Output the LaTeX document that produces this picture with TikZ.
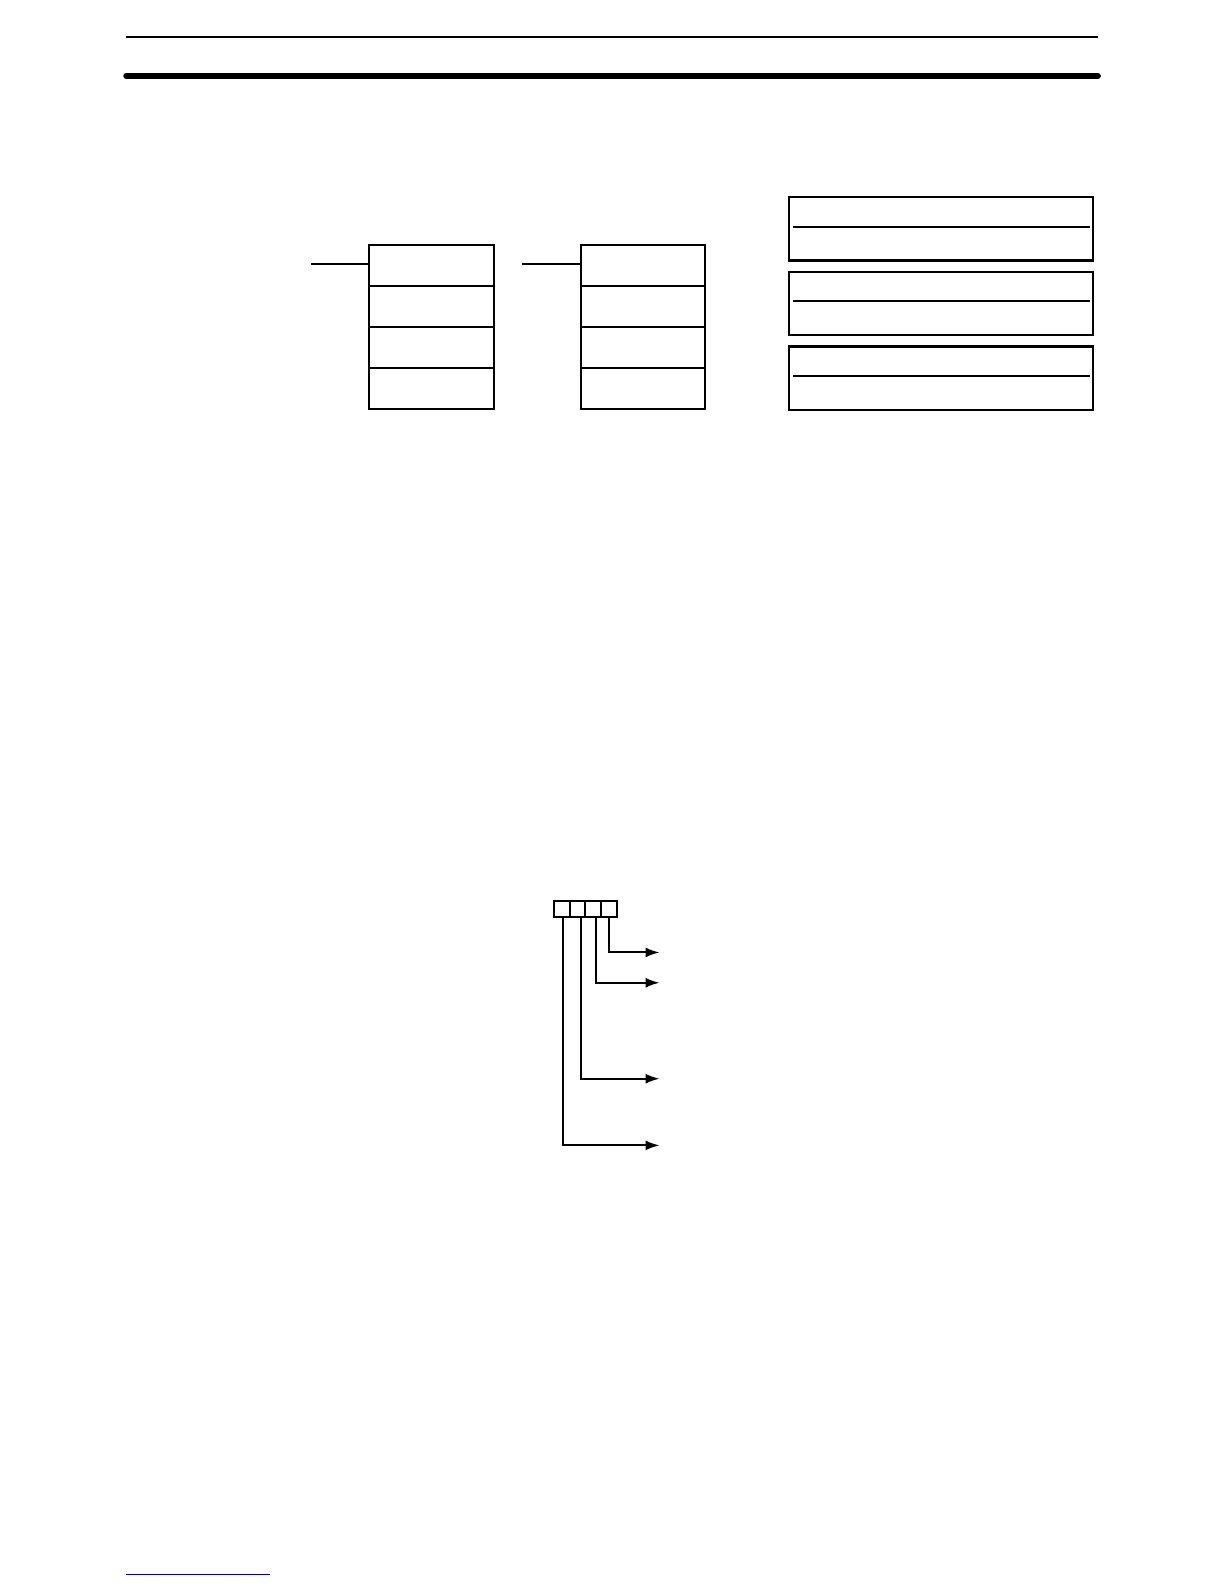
\documentclass[tikz,border=0pt]{standalone}
\usetikzlibrary{calc,arrows.meta}
\begin{document}
\begin{tikzpicture}[x=0.505bp,y=-0.505bp,
  cell/.style={draw,line width=1bp,inner sep=0pt,outer sep=0pt,minimum width=62.6bp,minimum height=20.45bp},
  wide/.style={draw,line width=1.1bp,inner sep=0pt,outer sep=0pt,minimum width=152bp,minimum height=31.8bp},
  bit/.style={draw,line width=1bp,inner sep=0pt,outer sep=0pt,minimum width=7.95bp,minimum height=8.08bp},
  conn/.style={line width=1bp},
  arr/.style={line width=1bp,-{Latex[length=7bp,width=5bp]}}]
\useasboundingbox (0,0) rectangle (1211.9,1568.3);
% header rules
\coordinate (h1a) at (125,37); \coordinate (h1b) at (1087,37);
\coordinate (h2a) at (125,75); \coordinate (h2b) at (1087,75);
\draw[line width=1bp] (h1a) -- (h1b);
\draw[line width=3bp,line cap=round] (h2a) -- (h2b);
% left and middle stacks
\foreach \i/\y in {1/263.25,2/303.75,3/344.25,4/384.75}{
  \node[cell] (a\i) at (427,\y) {};
  \node[cell,minimum width=62.1bp] (m\i) at (636.5,\y) {};
}
\coordinate (la) at (308,261);
\coordinate (lm) at (517,261);
\draw[conn] (la) -- (la -| a1.west);
\draw[conn] (lm) -- (lm -| m1.west);
% right boxes
\foreach \i/\y/\l in {1/226.5/225,2/300.5/298,3/374.5/372}{
  \node[wide] (r\i) at (931.5,\y) {};
  \coordinate (rl\i) at (785,\l);
  \coordinate (rr\i) at (1079,\l);
  \draw[line width=1.1bp] (rl\i) -- (rr\i);
}
% bits
\foreach \i/\x in {1/556,2/571.75,3/587.5,4/603.25}{
  \node[bit] (b\i) at (\x,900) {};
}
\coordinate (t4) at (653,943);
\coordinate (t3) at (653,973);
\coordinate (t2) at (653,1068);
\coordinate (t1) at (653,1134);
\draw[arr] ($(b4.south)+(0,0)$) |- (t4);
\draw[arr] ($(b3.south)+(2.5,0)$) |- (t3);
\draw[arr] ($(b2.south)+(3,0)$) |- (t2);
\draw[arr] ($(b1.south)+(1.5,0)$) |- (t1);
% footer link underline
\coordinate (fa) at (125,1559); \coordinate (fb) at (267,1559);
\draw[line width=0.5bp,blue!60!black] (fa) -- (fb);
\end{tikzpicture}
\end{document}
